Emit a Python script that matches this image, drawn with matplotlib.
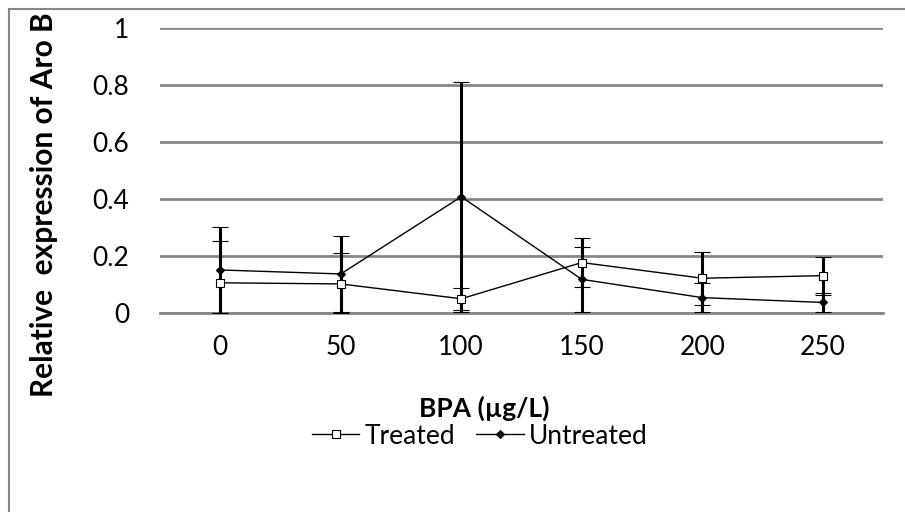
import numpy as np
import matplotlib.pyplot as plt
from matplotlib.patches import Rectangle
from matplotlib.lines import Line2D

plt.rcParams['font.family'] = ['Lato', 'DejaVu Sans']

bpa = [0, 50, 100, 150, 200, 250]
treated = [0.106, 0.102, 0.050, 0.177, 0.122, 0.131]
treated_err = [0.148, 0.108, 0.038, 0.087, 0.093, 0.067]
untreated = [0.151, 0.137, 0.408, 0.118, 0.054, 0.037]
untreated_err = [0.150, 0.134, 0.404, 0.115, 0.050, 0.034]

x = np.arange(len(bpa))

fig = plt.figure(figsize=(9.05, 5.12), dpi=100)
ax = fig.add_axes([160 / 905, 199 / 512, 723 / 905, 285 / 512])

# chart border (open on the right and bottom edges)
top = 1 - 8.5 / 512
fig.patches.append(Rectangle((8.5 / 905, -0.1), 2.0, top + 0.1,
                             transform=fig.transFigure, fill=False,
                             edgecolor='#868686', linewidth=1.5))

styles = {
    'Untreated': dict(marker='D', markersize=4.5, markerfacecolor='black'),
    'Treated': dict(marker='s', markersize=5.5, markerfacecolor='white'),
}

for vals, errs, lab in [(untreated, untreated_err, 'Untreated'),
                        (treated, treated_err, 'Treated')]:
    v = np.array(vals)
    e = np.array(errs)
    lower = np.minimum(e, v)   # bars stop at the axis floor
    ax.errorbar(x, v, yerr=[lower, e], color='black', linewidth=1.0,
                markeredgecolor='black', markeredgewidth=0.8,
                ecolor='black', elinewidth=2.2, capsize=5.5, capthick=2.2,
                zorder=3, **styles[lab])

ax.set_xlim(-0.5, len(bpa) - 0.5)
ax.set_ylim(0, 1)
ax.set_yticks([0, 0.2, 0.4, 0.6, 0.8, 1])
ax.set_yticklabels(['0', '0.2', '0.4', '0.6', '0.8', '1'])
ax.set_xticks(x)
ax.set_xticklabels([str(b) for b in bpa])
ax.tick_params(length=0, labelsize=19)
ax.tick_params(axis='x', pad=16)
ax.tick_params(axis='y', pad=22)

ax.grid(axis='y', color='#868686', linewidth=2)
ax.set_axisbelow(True)
for s in ['top', 'right', 'left']:
    ax.spines[s].set_visible(False)
ax.spines['bottom'].set_color('#868686')
ax.spines['bottom'].set_linewidth(2)
ax.spines['bottom'].set_zorder(1)

ax.set_ylabel('Relative  expression of Aro B', fontsize=21.5, fontweight='bold')
ax.yaxis.set_label_coords(-(160 - 58) / 723, (313 - 205) / 285)
fig.text(484 / 905, 1 - 408 / 512, 'BPA (µg/L)', fontsize=19, fontweight='bold',
         ha='center', va='center')

handles = [Line2D([], [], color='black', linewidth=1.0, markeredgecolor='black',
                  markeredgewidth=0.8, **styles[k]) for k in ['Treated', 'Untreated']]
fig.legend(handles, ['Treated', 'Untreated'], loc='center',
           bbox_to_anchor=(480 / 905, 1 - 436 / 512), ncol=2, frameon=False,
           fontsize=19, handlelength=1.8, handletextpad=0.2, columnspacing=0.8)

fig.savefig('out.png', dpi=100)
